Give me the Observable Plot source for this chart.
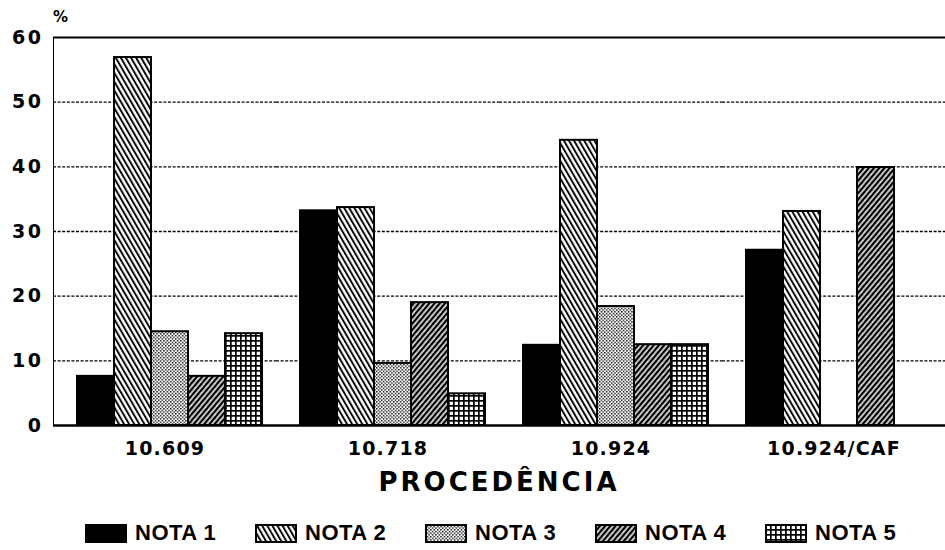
<!DOCTYPE html>
<html>
<head>
<meta charset="utf-8">
<script src="https://cdn.jsdelivr.net/npm/d3@7"></script>
<script src="https://cdn.jsdelivr.net/npm/@observablehq/plot@0.6"></script>
<style>
  html, body { margin: 0; padding: 0; background: white; }
  body { width: 945px; height: 550px; position: relative; overflow: hidden; font-family: "DejaVu Sans", sans-serif; }
  #chart { position: absolute; left: 0; top: 0; }
  #chart svg text { font-family: "DejaVu Sans", sans-serif; font-weight: bold; fill: black; }
  #chart g[aria-label="y-axis tick label"] { font-size: 19px !important; letter-spacing: 2.5px; }
  #chart g[aria-label="y-axis tick label"] text { font-size: 19px !important; }
  #chart g[aria-label="fx-axis tick label"] { font-size: 19px !important; letter-spacing: 1.2px; }
  #chart g[aria-label="fx-axis tick label"] text { font-size: 19px !important; }
  #pct { position: absolute; left: 53px; top: 8px; font: bold 15px "DejaVu Sans", sans-serif; z-index: 5; }
  #title { position: absolute; left: 53px; width: 892px; top: 466px; text-align: center;
           font: bold 26px/32px "DejaVu Sans", sans-serif; letter-spacing: 3px; }
  #legend { position: absolute; left: 85px; top: 521px; display: flex; }
  .item { width: 170px; display: flex; align-items: center; }
  .item svg { display: block; margin-right: 8px; }
  .item span { font: bold 22px/24px "Liberation Sans", Arial, sans-serif; letter-spacing: 0.5px; }
</style>
</head>
<body>
<svg width="0" height="0" style="position:absolute">
  <defs>
    <pattern id="p2" patternUnits="userSpaceOnUse" width="4.4" height="8" patternTransform="rotate(-30)">
      <rect width="4.4" height="8" fill="white"/>
      <line x1="1" y1="0" x2="1" y2="8" stroke="black" stroke-width="1.9"/>
    </pattern>
    <pattern id="p3" patternUnits="userSpaceOnUse" width="3.4" height="3.4">
      <rect width="3.4" height="3.4" fill="white"/>
      <rect x="0" y="0" width="1.4" height="1.4" fill="black"/>
      <rect x="1.7" y="1.7" width="1.4" height="1.4" fill="black"/>
    </pattern>
    <pattern id="p4" patternUnits="userSpaceOnUse" width="4" height="8" patternTransform="rotate(40)">
      <rect width="4" height="8" fill="#cfcfcf"/>
      <line x1="1" y1="0" x2="1" y2="8" stroke="black" stroke-width="2.3"/>
      <rect x="2.6" y="3" width="1" height="1" fill="white"/>
    </pattern>
    <pattern id="p5" patternUnits="userSpaceOnUse" width="5" height="5">
      <rect width="5" height="5" fill="white"/>
      <rect x="0" y="0" width="5" height="1.7" fill="black"/>
      <rect x="0" y="0" width="1.7" height="5" fill="black"/>
    </pattern>
  </defs>
</svg>
<div id="chart"></div>
<div id="pct">%</div>
<div id="title">PROCEDÊNCIA</div>
<div id="legend"></div>
<script>
// ---- data ----
const groups = ["10.609", "10.718", "10.924", "10.924/CAF"];
const notas = ["NOTA 1", "NOTA 2", "NOTA 3", "NOTA 4", "NOTA 5"];
const nota1 = [7.6, 33.2, 12.4, 27.1];
const nota2 = [56.9, 33.7, 44.1, 33.1];
const nota3 = [14.5, 9.6, 18.4, 0];
const nota4 = [7.6, 19.0, 12.5, 39.9];
const nota5 = [14.2, 4.9, 12.5, 0];
const yTicks = [0, 10, 20, 30, 40, 50, 60];
const gridTicks = [10, 20, 30, 40, 50];

// ---- styles ----
const fills = ["black", "url(#p2)", "url(#p3)", "url(#p4)", "url(#p5)"];

const series = [nota1, nota2, nota3, nota4, nota5];
const data = groups.flatMap((g, i) => notas.map((n, j) => ({group: g, nota: n, value: series[j][i]})));

const chart = Plot.plot({
  width: 945,
  height: 462,
  marginLeft: 53,
  marginRight: 0,
  marginTop: 37,
  marginBottom: 37,
  style: {background: "white", fontFamily: "DejaVu Sans", overflow: "visible"},
  fx: {domain: groups, padding: 0, axis: "bottom", tickSize: 0, tickPadding: 16, label: null},
  x: {domain: notas, axis: null, paddingInner: 0, paddingOuter: 0.435, align: 0.62},
  y: {domain: [0, 60], ticks: yTicks, tickSize: 0, tickPadding: 10, label: null, line: true},
  color: {type: "ordinal", domain: notas, range: fills},
  marks: [
    Plot.ruleY(gridTicks, {stroke: "black", strokeWidth: 1.3, strokeDasharray: "3,1.6"}),
    Plot.ruleY([60], {stroke: "black", strokeWidth: 2}),
    Plot.barY(data, {fx: "group", x: "nota", y: "value", fill: "nota", stroke: "black", strokeWidth: 2}),
    Plot.ruleY([0], {stroke: "black", strokeWidth: 2.5})
  ]
});
document.getElementById("chart").appendChild(chart);

// ---- legend ----
const legend = d3.select("#legend");
notas.forEach((n, j) => {
  const item = legend.append("div").attr("class", "item");
  const s = item.append("svg").attr("width", 42).attr("height", 19);
  s.append("rect").attr("x", 1).attr("y", 1).attr("width", 40).attr("height", 17)
    .attr("fill", fills[j]).attr("stroke", "black").attr("stroke-width", 2);
  item.append("span").text(n);
});
</script>
</body>
</html>
